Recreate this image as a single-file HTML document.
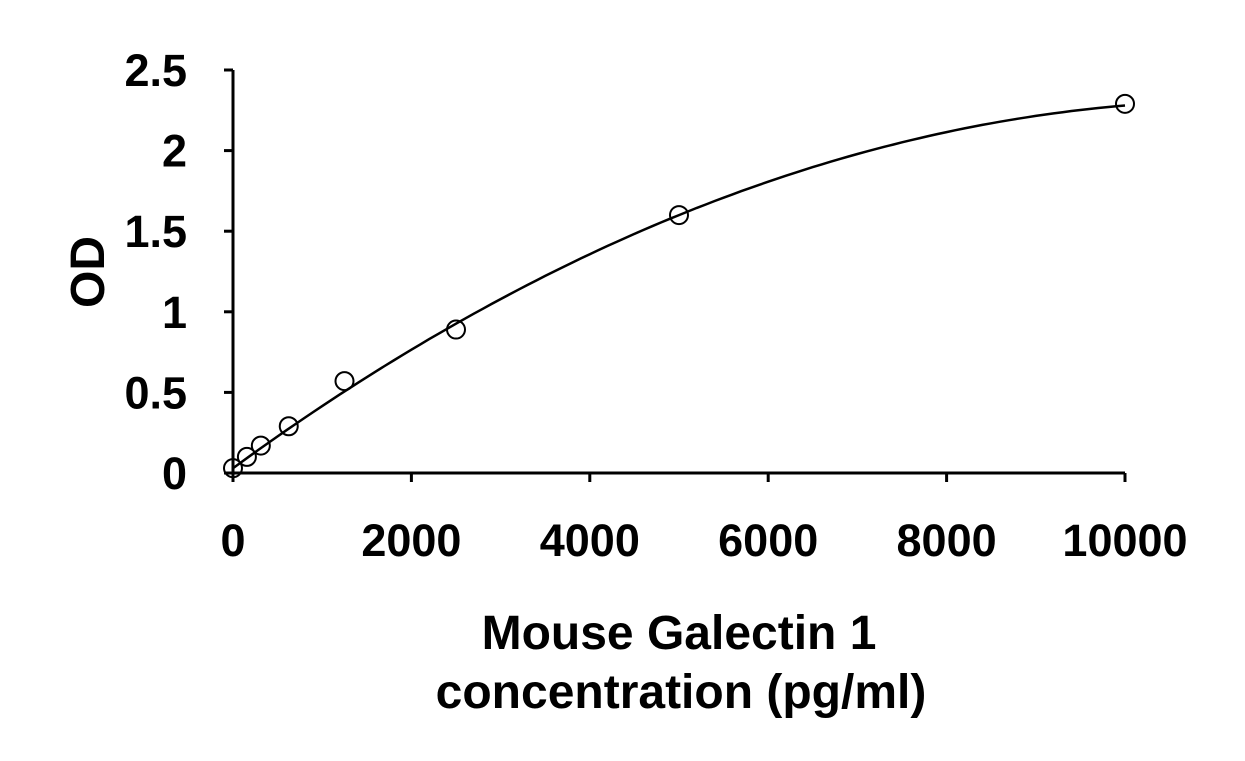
<!DOCTYPE html>
<html><head><meta charset="utf-8"><style>
body{margin:0;background:#fff;}
svg text{font-family:"Liberation Sans",sans-serif;font-weight:bold;fill:#000;}
</style></head><body>
<svg width="1245" height="756" id="chart">
<g id="axes"></g><g id="marks"></g>
<text x="679" y="649" font-size="48" text-anchor="middle">Mouse Galectin 1</text>
<text x="681" y="708" font-size="48" text-anchor="middle">concentration (pg/ml)</text>
<text transform="translate(104,272) rotate(-90)" font-size="48" text-anchor="middle">OD</text>
</svg>
<script>
const xTicks=[0,2000,4000,6000,8000,10000];
const yTicks=[0,0.5,1,1.5,2,2.5];
const yTickLabels=["0","0.5","1","1.5","2","2.5"];
const concentrations=[0,156,312,625,1250,2500,5000,10000];
const odValues=[0.03,0.10,0.17,0.29,0.57,0.89,1.60,2.29];
const fitCoefficients=[0.03,4.03e-4,-1.78e-8];
const NS="http://www.w3.org/2000/svg";
const X0=233,X1=1125,Y0=473,Y1=70;
const sx=v=>X0+(v-0)/(10000)*(X1-X0);
const sy=v=>Y0-(v/2.5)*(Y0-Y1);
function mk(t,a,p){const e=document.createElementNS(NS,t);for(const k in a)e.setAttribute(k,a[k]);p.appendChild(e);return e;}
const ax=document.getElementById('axes'),mg=document.getElementById('marks');
let l=mk('line',{x1:X0,y1:Y1,x2:X0,y2:Y0,stroke:'#000','stroke-width':3},ax);


l=mk('line',{x1:X0,y1:Y0,x2:X1,y2:Y0,stroke:'#000','stroke-width':3},ax);


xTicks.forEach(v=>{
 const t=mk('line',{x1:sx(v),y1:Y0,x2:sx(v),y2:Y0+9,stroke:'#000','stroke-width':3},ax);
 
 
 const tx=mk('text',{x:sx(v),y:556,'font-size':45,'text-anchor':'middle'},ax);tx.textContent=String(v);
 
 
});
yTicks.forEach((v,i)=>{
 const t=mk('line',{x1:X0-9,y1:sy(v),x2:X0,y2:sy(v),stroke:'#000','stroke-width':3},ax);
 
 
 const tx=mk('text',{x:187,y:sy(v)+16,'font-size':45,'text-anchor':'end'},ax);tx.textContent=yTickLabels[i];
 
 
});
let d='';
for(let c=0;c<=10000;c+=100){const y=fitCoefficients[0]+fitCoefficients[1]*c+fitCoefficients[2]*c*c;d+=(c?'L':'M')+sx(c).toFixed(1)+' '+sy(y).toFixed(1);}
const p=mk('path',{d:d,fill:'none',stroke:'#000','stroke-width':2.5},mg);


concentrations.forEach((c,i)=>{
 const pt=mk('circle',{cx:sx(c),cy:sy(odValues[i]),r:9,fill:'none',stroke:'#000','stroke-width':2},mg);
 
 
});
</script>
</body></html>
